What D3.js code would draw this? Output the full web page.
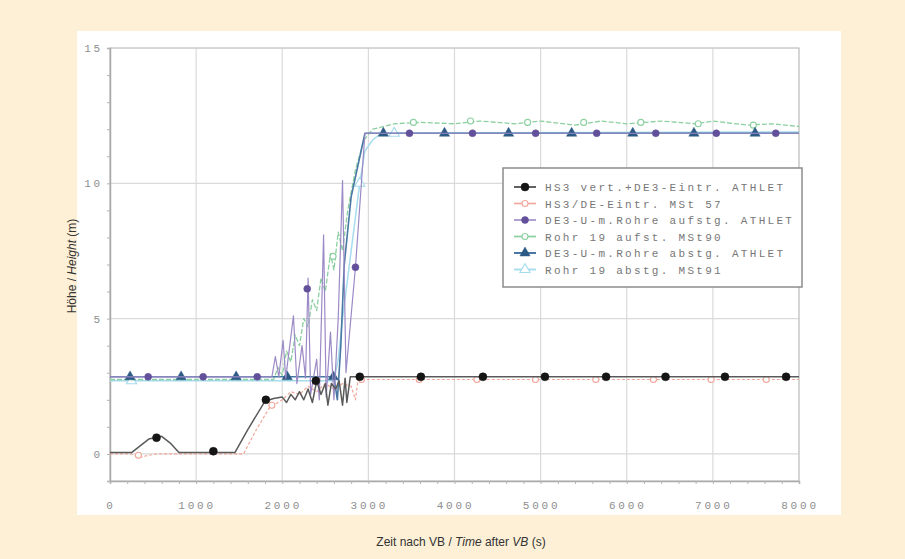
<!DOCTYPE html>
<html>
<head>
<meta charset="utf-8">
<script src="https://cdn.jsdelivr.net/npm/d3@7"></script>
<style>
  body { margin: 0; background: #fdf0d7; }
  svg { display: block; }
</style>
</head>
<body>
<div id="chart"></div>
<script>
// axis ticks
var xTicks = [0, 1000, 2000, 3000, 4000, 5000, 6000, 7000, 8000];
var yTicks = [0, 5, 10, 15];

// series lines [time s, height m]
var hs3Athlet = [[0,0.05],[250,0.05],[350,0.3],[450,0.55],[600,0.65],[700,0.4],[800,0.05],[1450,0.05],[1600,0.9],[1800,1.95],[1900,2.05],[2000,2.1],[2050,1.9],[2100,2.2],[2150,2.0],[2200,2.3],[2250,2.0],[2300,2.4],[2350,1.9],[2400,2.7],[2450,2.2],[2500,2.6],[2530,1.8],[2570,2.6],[2620,2.4],[2660,2.7],[2700,1.8],[2730,2.8],[2750,1.9],[2790,2.85],[2900,2.85],[8000,2.85]];
var hs3Mst57 = [[0,0],[250,0],[350,-0.12],[450,-0.05],[550,0],[1550,0],[1700,0.9],[1850,1.7],[2000,2.0],[2100,2.3],[2200,2.2],[2300,2.5],[2400,2.3],[2500,2.6],[2600,2.4],[2700,2.6],[2800,2.5],[2850,2.0],[2880,2.75],[3000,2.75],[8000,2.75]];
var de3AufAthlet = [[0,2.85],[1880,2.85],[1920,3.6],[1960,2.85],[2010,4.2],[2040,2.8],[2130,5.1],[2170,2.6],[2230,4.0],[2270,2.8],[2300,6.5],[2330,2.2],[2400,3.5],[2430,2.0],[2480,8.1],[2510,2.1],[2560,4.5],[2600,2.0],[2650,5.0],[2700,10.1],[2740,3.0],[2850,6.9],[2960,11.85],[8000,11.85]];
var rohr19Auf = [[0,2.75],[1900,2.75],[1950,3.2],[2000,2.9],[2050,3.8],[2100,3.4],[2150,4.4],[2200,4.0],[2250,5.0],[2300,4.7],[2350,5.7],[2400,5.3],[2450,6.5],[2500,6.0],[2560,7.4],[2600,6.8],[2650,8.2],[2700,7.5],[2760,9.0],[2850,10.5],[2950,11.6],[3050,12.0],[3300,12.2],[3600,12.25],[4000,12.2],[4300,12.3],[4700,12.2],[5000,12.3],[5400,12.15],[5700,12.3],[6000,12.2],[6400,12.3],[6800,12.2],[7000,12.3],[7400,12.15],[7700,12.2],[8000,12.1]];
var de3AbAthlet = [[0,2.85],[2600,2.85],[2640,2.0],[2680,4.0],[2720,7.0],[2800,9.5],[2960,11.85],[8000,11.85]];
var rohr19Ab = [[0,2.7],[2600,2.7],[2650,3.5],[2700,5.0],[2800,7.5],[2900,10.0],[2960,11.2],[3050,11.6],[3150,11.85],[8000,11.9]];

// series markers
var hs3AthletMk = [[540,0.6],[1200,0.1],[1810,2.0],[2390,2.7],[2900,2.85],[3610,2.85],[4330,2.85],[5050,2.85],[5760,2.85],[6450,2.85],[7140,2.85],[7850,2.85]];
var hs3Mst57Mk = [[330,-0.05],[1880,1.8],[2920,2.75],[3590,2.75],[4260,2.75],[4940,2.75],[5640,2.75],[6310,2.75],[6980,2.75],[7620,2.75]];
var de3AufMk = [[443,2.85],[1081,2.85],[1709,2.85],[2290,6.1],[2850,6.9],[3477,11.85],[4209,11.85],[4942,11.85],[5651,11.85],[6337,11.85],[7040,11.85],[7730,11.85]];
var rohr19AufMk = [[2590,7.3],[3523,12.25],[4186,12.3],[4849,12.25],[5500,12.25],[6163,12.25],[6830,12.2],[7470,12.15]];
var de3AbMk = [[233,2.85],[826,2.85],[1465,2.85],[2058,2.85],[2593,2.85],[3174,11.85],[3884,11.85],[4628,11.85],[5360,11.85],[6070,11.85],[6780,11.85],[7490,11.85]];
var rohr19AbMk = [[250,2.7],[2900,10.0],[3300,11.85]];

var legendNames = ["HS3 vert.+DE3-Eintr. ATHLET", "HS3/DE-Eintr. MSt 57", "DE3-U-m.Rohre aufstg. ATHLET",
                   "Rohr 19 aufst. MSt90", "DE3-U-m.Rohre abstg. ATHLET", "Rohr 19 abstg. MSt91"];

var W = 905, H = 559;
var svg = d3.select("#chart").append("svg").attr("width", W).attr("height", H);

// white panel
svg.append("rect").attr("x", 77).attr("y", 31).attr("width", 764).attr("height", 484).attr("fill", "#ffffff");

var x = d3.scaleLinear().domain([0, 8000]).range([110, 799]);
var y = d3.scaleLinear().domain([-1, 15]).range([481, 48]);

// grid
var g = svg.append("g");
g.selectAll(".gx").data(xTicks).enter().append("line")
  .attr("x1", d => x(d)).attr("x2", d => x(d)).attr("y1", y(15)).attr("y2", y(-1))
  .attr("stroke", "#dadada").attr("stroke-width", 1.2);
g.selectAll(".gy").data(yTicks).enter().append("line")
  .attr("x1", x(0)).attr("x2", x(8000)).attr("y1", d => y(d)).attr("y2", d => y(d))
  .attr("stroke", "#dadada").attr("stroke-width", 1.2);

// frame
svg.append("rect").attr("x", x(0)).attr("y", y(15)).attr("width", x(8000) - x(0)).attr("height", y(-1) - y(15))
  .attr("fill", "none").attr("stroke", "#c8c8c8").attr("stroke-width", 1.2);

// axes with minor ticks
var xAxis = svg.append("g").attr("transform", "translate(0," + y(-1) + ")")
  .call(d3.axisBottom(x).ticks(40).tickSize(3).tickFormat(""));
var yAxis = svg.append("g").attr("transform", "translate(" + x(0) + ",0)")
  .call(d3.axisLeft(y).ticks(16).tickSize(3).tickFormat(""));
[xAxis, yAxis].forEach(function(a) {
  a.select(".domain").attr("stroke", "#aaaaaa").attr("stroke-width", 1.5);
  a.selectAll(".tick line").attr("stroke", "#b4b4b4");
});

// tick labels
svg.selectAll(".xl").data(xTicks).enter().append("text")
  .attr("x", d => x(d) + 1).attr("y", 509).attr("text-anchor", "middle")
  .style("font-family", "'Liberation Mono', monospace").style("font-size", "11px")
  .style("letter-spacing", "2.8px").attr("fill", "#8e8e8e").text(d => d);
svg.selectAll(".yl").data(yTicks).enter().append("text")
  .attr("x", 103).attr("y", d => y(d) + 4).attr("text-anchor", "end")
  .style("font-family", "'Liberation Mono', monospace").style("font-size", "11px")
  .style("letter-spacing", "2.8px").attr("fill", "#8e8e8e").text(d => d);

// axis titles
var xt = svg.append("text").attr("x", 461).attr("y", 546).attr("text-anchor", "middle")
  .style("font-family", "'Liberation Sans', Arial, sans-serif").style("font-size", "12px").attr("fill", "#333");
xt.append("tspan").text("Zeit nach VB / ");
xt.append("tspan").style("font-style", "italic").text("Time");
xt.append("tspan").text(" after ");
xt.append("tspan").style("font-style", "italic").text("VB");
xt.append("tspan").text(" (s)");

var yt = svg.append("text").attr("transform", "translate(76,266) rotate(-90)").attr("text-anchor", "middle")
  .style("font-family", "'Liberation Sans', Arial, sans-serif").style("font-size", "12px").attr("fill", "#333");
yt.append("tspan").text("Höhe / ");
yt.append("tspan").style("font-style", "italic").text("Height");
yt.append("tspan").text(" (m)");

// series styles
var series = [
  { line: hs3Mst57,     mk: hs3Mst57Mk,   color: "#f2a699", width: 1.2, dash: "3,2", shape: "circle",   fill: "none" },
  { line: rohr19Ab,     mk: rohr19AbMk,   color: "#a6dcee", width: 1.5, dash: null,  shape: "triangle", fill: "none" },
  { line: rohr19Auf,    mk: rohr19AufMk,  color: "#8ccfa0", width: 1.3, dash: "5,2", shape: "circle",   fill: "none" },
  { line: de3AbAthlet,  mk: de3AbMk,      color: "#4a78a4", width: 1.6, dash: null,  shape: "triangle", fill: "#2c5a85" },
  { line: de3AufAthlet, mk: de3AufMk,     color: "#9c8ac6", width: 1.2, dash: null,  shape: "circle",   fill: "#62509a" },
  { line: hs3Athlet,    mk: hs3AthletMk,  color: "#5a5a5a", width: 1.5, dash: null,  shape: "circle",   fill: "#151515" }
];
var legendIdx = [5, 0, 4, 2, 3, 1];

var line = d3.line().x(d => x(d[0])).y(d => y(d[1]));
var tri = d3.symbol().type(d3.symbolTriangle).size(45);

function drawMarker(sel, s, cx, cy) {
  var m;
  if (s.shape === "triangle") {
    m = sel.append("path").attr("d", tri).attr("transform", "translate(" + cx + "," + cy + ")");
  } else {
    m = sel.append("circle").attr("cx", cx).attr("cy", cy).attr("r", s.fill === "none" ? 3 : (s.fill === "#151515" ? 4 : 3.5));
  }
  if (s.fill === "none") m.attr("fill", "#fff").attr("stroke", s.color).attr("stroke-width", 1.1);
  else m.attr("fill", s.fill).attr("stroke", s.fill).attr("stroke-width", 0.5);
}

series.forEach(function(s) {
  var gs = svg.append("g");
  gs.append("path").datum(s.line).attr("d", line).attr("fill", "none")
    .attr("stroke", s.color).attr("stroke-width", s.width)
    .attr("stroke-dasharray", s.dash).attr("stroke-linejoin", "round");
  s.mk.forEach(function(p) { drawMarker(gs, s, x(p[0]), y(p[1])); });
});

// legend
var lg = svg.append("g");
lg.append("rect").attr("x", 503).attr("y", 168).attr("width", 299).attr("height", 119)
  .attr("fill", "#fff").attr("stroke", "#8c8c8c").attr("stroke-width", 1.5);
legendIdx.forEach(function(si, i) {
  var s = series[si], ly = 187 + i * 16.5;
  lg.append("line").attr("x1", 514).attr("x2", 536).attr("y1", ly).attr("y2", ly)
    .attr("stroke", s.color).attr("stroke-width", s.width + 0.4);
  drawMarker(lg, s, 525, ly);
  lg.append("text").attr("x", 545).attr("y", ly + 4)
    .style("font-family", "'Liberation Mono', monospace").style("font-size", "11px")
    .style("letter-spacing", "2.3px").attr("fill", "#777").text(legendNames[i]);
});
</script>
</body>
</html>
